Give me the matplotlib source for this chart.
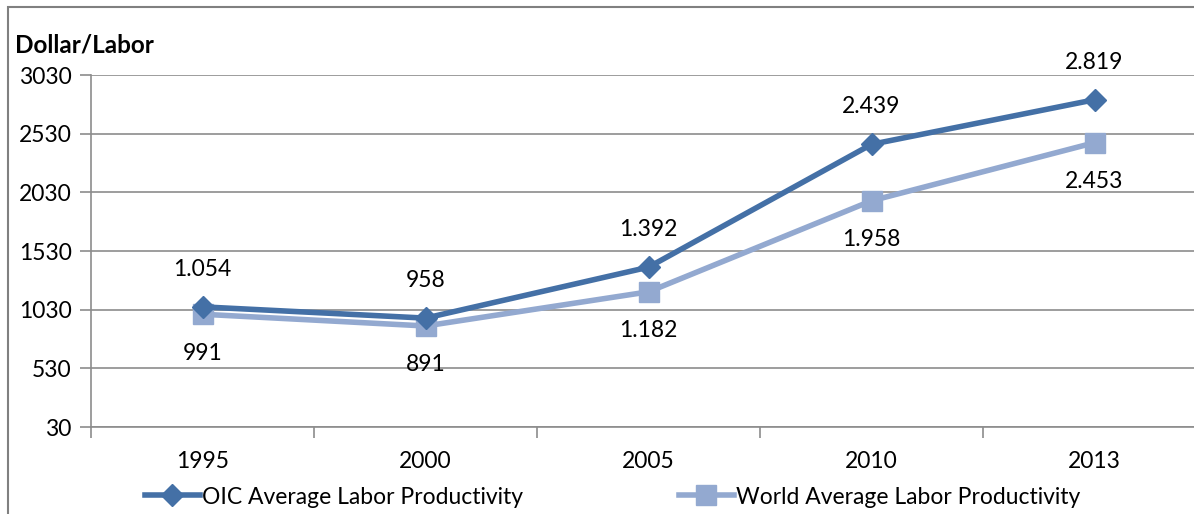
import matplotlib
matplotlib.use("Agg")
import matplotlib.pyplot as plt
from matplotlib.patches import Rectangle
import numpy as np

# Chart data
years = ["1995", "2000", "2005", "2010", "2013"]
oic_values = [1054, 958, 1392, 2439, 2819]
world_values = [991, 891, 1182, 1958, 2453]
oic_labels = ["1.054", "958", "1.392", "2.439", "2.819"]
world_labels = ["991", "891", "1.182", "1.958", "2.453"]
y_ticks = [30, 530, 1030, 1530, 2030, 2530, 3030]

oic_color = "#4470A6"
world_color = "#93A9D0"
grid_color = "#8C8C8C"
fs = 16.5

plt.rcParams['font.family'] = ['Lato', 'DejaVu Sans']

fig = plt.figure(figsize=(11.94, 5.14), dpi=100)
ax = fig.add_axes([91 / 1194, 1 - 427 / 514, (1206 - 91) / 1194, (427 - 75) / 514])

x = np.arange(len(years)) + 0.5

line_oic, = ax.plot(x, oic_values, color=oic_color, lw=4, marker='D', ms=11,
                    label="OIC Average Labor Productivity", zorder=4, clip_on=False)
line_world, = ax.plot(x, world_values, color=world_color, lw=4, marker='s', ms=14,
                      label="World Average Labor Productivity", zorder=3, clip_on=False)

# Data labels
for xi, v, t in zip(x, oic_values, oic_labels):
    ax.annotate(t, (xi, v), xytext=(0, 27), textcoords='offset points',
                ha='center', va='center', fontsize=fs)
for xi, v, t in zip(x, world_values, world_labels):
    ax.annotate(t, (xi, v), xytext=(0, -28), textcoords='offset points',
                ha='center', va='center', fontsize=fs)

ax.set_xlim(0, len(years))
ax.set_ylim(30, 3030)
ax.set_yticks(y_ticks)
ax.set_yticklabels([str(t) for t in y_ticks], fontsize=fs)
ax.yaxis.grid(True, color=grid_color, lw=1.2)
ax.set_axisbelow(True)

# Category axis: ticks between categories, labels centered
ax.set_xticks(np.arange(len(years) + 1))
ax.set_xticklabels([])
ax.set_xticks(x, minor=True)
ax.set_xticklabels(years, minor=True, fontsize=fs)
ax.tick_params(axis='x', which='minor', length=0, pad=17)
ax.tick_params(axis='x', which='major', length=8, color=grid_color, width=1.2)
ax.tick_params(axis='y', length=8, color=grid_color, width=1.2, pad=6)

for s in ['top', 'right']:
    ax.spines[s].set_visible(False)
for s in ['left', 'bottom']:
    ax.spines[s].set_color(grid_color)
    ax.spines[s].set_linewidth(1.2)

fig.text(15 / 1194, 1 - 45 / 514, "Dollar/Labor", fontsize=fs + 1, fontweight='bold',
         va='center', ha='left')

fig.legend(handles=[line_oic, line_world], loc='center', ncol=2,
           bbox_to_anchor=(0.513, 1 - 497 / 514), frameon=False, fontsize=fs,
           handlelength=2.4, handletextpad=0.1, columnspacing=6.8)

# Outer chart frame
fig.add_artist(Rectangle((8 / 1194, -0.1), 1.2, 1 - 7 / 514 + 0.1,
                         transform=fig.transFigure, fill=False,
                         edgecolor='#808080', lw=1.5))

fig.savefig("out.png", dpi=100)
